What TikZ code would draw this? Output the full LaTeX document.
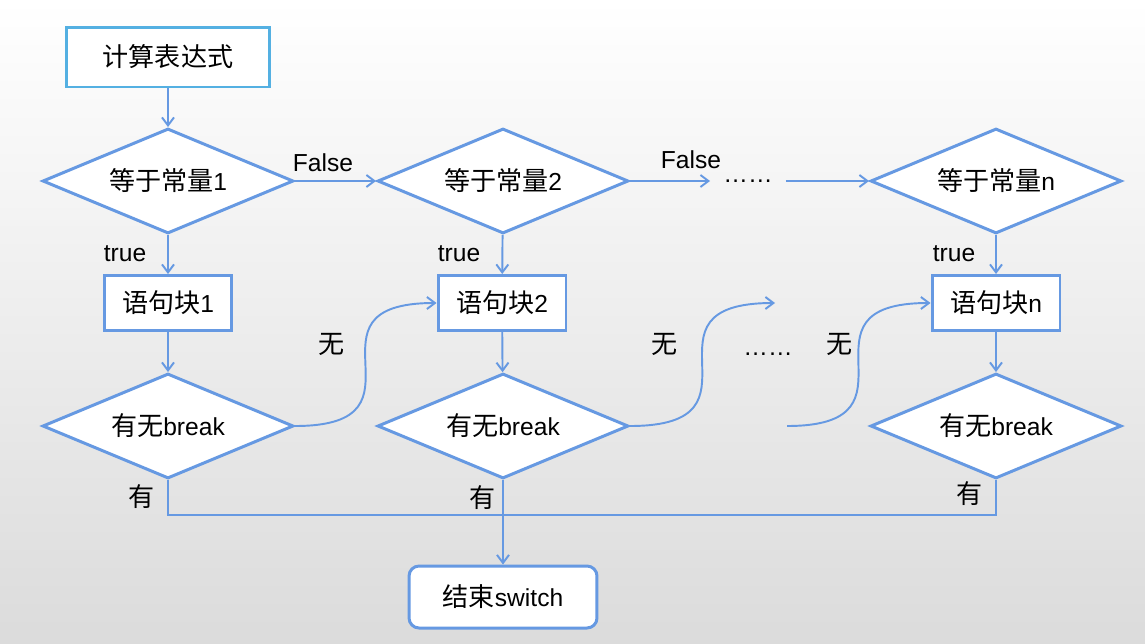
\documentclass[tikz,border=0pt]{standalone}
\usepackage{fontspec}
\setmainfont{Liberation Sans}
\newfontfamily\cjk[Scale=1.06]{Noto Sans CJK SC}
\usepackage{tikz}
\usetikzlibrary{shapes.geometric}
\usetikzlibrary{arrows.meta}
\definecolor{flowblue}{RGB}{102,153,226}
\definecolor{startblue}{RGB}{84,176,226}

\begin{document}
\begin{tikzpicture}[x=0.02cm, y=-0.02cm,
        every node/.style={font=\fontsize{14}{17}\selectfont},
        box/.style={draw=flowblue, line width=1.7pt, fill=white, minimum width=2.56cm, minimum height=1.1cm, inner sep=0pt},
        test/.style={draw=flowblue, line width=1.7pt, fill=white, diamond, aspect=2.4, minimum width=5.02cm, minimum height=2.1cm, inner sep=0pt},
        arr/.style={draw=flowblue, line width=1.1pt, -{Straight Barb[length=0.16cm, width=0.24cm]}},
        link/.style={draw=flowblue, line width=1.1pt}]
        	\shade[top color=white, bottom color=black!14] (0,0) rectangle (1145,643);
        	\node[draw=startblue, line width=1.7pt, fill=white, minimum width=4.08cm, minimum height=1.2cm] (A) at (168, 57) {{\cjk 计算表达式}};
        	\node[test] (B) at (168, 181) {{\cjk 等于常量}1};
        	\node[test] (C) at (503, 181) {{\cjk 等于常量}2};
        	\node[inner sep=0.26cm] (D) at (748, 181) {……};
        	\node[test] (E) at (996, 181) {{\cjk 等于常量}n};
        	\node[box] (F) at (168, 303) {{\cjk 语句块}1};
        	\node[box] (G) at (502, 303) {{\cjk 语句块}2};
        	\node[box] (H) at (996, 303) {{\cjk 语句块}n};
        	\node[test] (I) at (168, 426) {{\cjk 有无}break};
        	\node[test] (J) at (503, 426) {{\cjk 有无}break};
        	\node (K) at (768, 354) {……};
        	\node[test] (L) at (996, 426) {{\cjk 有无}break};
        	\node[draw=flowblue, line width=1.7pt, fill=white, rounded corners=0.2cm, minimum width=3.76cm, minimum height=1.24cm] (M) at (503, 597) {{\cjk 结束}switch};
        	\node (N) at (323, 163) {False};
        	\node (O) at (691, 160) {False};
        	\node (P) at (125, 254) {true};
        	\node (Q) at (459, 254) {true};
        	\node (R) at (954, 254) {true};
        	\node (S) at (332, 344) {\cjk 无};
        	\node (T) at (665, 344) {\cjk 无};
        	\node (U) at (840, 344) {\cjk 无};
        	\node (V) at (142, 497) {\cjk 有};
        	\node (W) at (483, 498) {\cjk 有};
        	\node (X) at (970, 494) {\cjk 有};
        	\coordinate (Y) at (775, 303);
        	\coordinate (Z) at (787, 426);
        	\coordinate (bus) at (503, 515);
        	\draw[arr] (A) -- (B);
        	\draw[arr] (B) -- (C);
        	\draw[arr] (C) -- (D);
        	\draw[arr] (D) -- (E);
        	\draw[arr] (B) -- (F);
        	\draw[arr] (C) -- (G);
        	\draw[arr] (E) -- (H);
        	\draw[arr] (F) -- (I);
        	\draw[arr] (G) -- (J);
        	\draw[arr] (H) -- (L);
        	\draw[arr] (I.east) .. controls +(145,0) and +(-145,0) .. (G.west);
        	\draw[arr] (J.east) .. controls +(147,0) and +(-147,0) .. (Y);
        	\draw[arr] (Z) .. controls +(145,0) and +(-145,0) .. (H.west);
        	\draw[link] (I.south) |- (bus) -| (L.south);
        	\draw[arr] (J.south) -- (M);
    	\end{tikzpicture}
\end{document}
